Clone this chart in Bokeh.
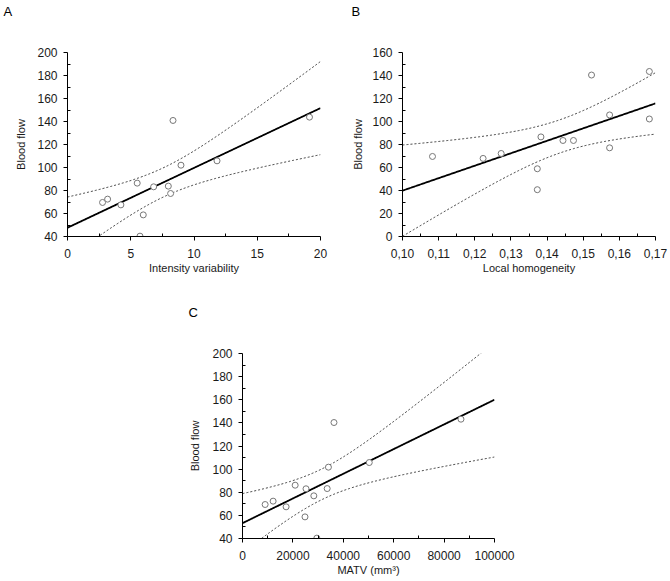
import numpy as np
from bokeh.plotting import figure
from bokeh.models import Range1d, FixedTicker, Spacer, ColumnDataSource, Title
from bokeh.layouts import row, column
from bokeh.embed import file_html
from bokeh.resources import INLINE

# ---------------- data ----------------
# Panel A: Intensity variability vs Blood flow
A_x = [2.77, 3.17, 4.22, 5.51, 5.73, 5.99, 6.81, 7.97, 8.15, 8.34, 8.97, 11.82, 19.13]
A_y = [69.6, 72.5, 67.5, 86.4, 40.3, 58.8, 83.2, 83.8, 77.4, 140.9, 102.0, 105.8, 143.8]

# Panel B: Local homogeneity vs Blood flow
B_x = [0.1083, 0.1223, 0.1273, 0.1373, 0.1373, 0.1383, 0.1444, 0.1473,
       0.1523, 0.1573, 0.1573, 0.1683, 0.1683]
B_y = [69.6, 67.9, 72.2, 58.9, 40.7, 86.6, 83.5, 83.5, 140.4, 105.7, 77.1, 143.5, 102.2]

# Panel C: MATV vs Blood flow
C_x = [8980, 12150, 17300, 20900, 24800, 25200, 28300, 29500, 33600, 34100,
       36300, 50300, 86700]
C_y = [69.4, 72.3, 67.4, 86.1, 58.7, 83.0, 76.9, 40.3, 83.2, 101.7, 140.3, 105.7, 143.2]

# axis ticks / labels
A_xticks = [0, 5, 10, 15, 20]
A_xtick_labels = ["0", "5", "10", "15", "20"]
A_yticks = [40, 60, 80, 100, 120, 140, 160, 180, 200]

B_xticks = [0.10, 0.11, 0.12, 0.13, 0.14, 0.15, 0.16, 0.17]
B_xtick_labels = ["0,10", "0,11", "0,12", "0,13", "0,14", "0,15", "0,16", "0,17"]
B_yticks = [0, 20, 40, 60, 80, 100, 120, 140, 160]

C_xticks = [0, 20000, 40000, 60000, 80000, 100000]
C_xtick_labels = ["0", "20000", "40000", "60000", "80000", "100000"]
C_yticks = [40, 60, 80, 100, 120, 140, 160, 180, 200]

T_CRIT = 2.201  # t(0.975, df = 11) for the 95% confidence band

FONT = "Liberation Sans"


def mids(ticks):
    return [(a + b) / 2 for a, b in zip(ticks[:-1], ticks[1:])]


def panel(letter, xs_data, ys_data, xr, yr, xticks, xlabels, yticks,
          xlabel, width, height, bl, bt, br, bb, ylab_standoff,
          letter_offset, gap_standoff):
    p = figure(width=width, height=height, output_backend="svg",
               toolbar_location=None, x_range=Range1d(*xr), y_range=Range1d(*yr),
               min_border_left=bl, min_border_top=bt, min_border_right=br,
               min_border_bottom=bb, title=None)
    p.outline_line_color = None
    p.grid.visible = False
    p.background_fill_color = "white"
    p.border_fill_color = "white"

    # spacer title next to the frame, then the panel letter further out
    p.add_layout(Title(text=" ", standoff=gap_standoff, text_font=FONT,
                       text_font_size="13px"), "above")
    p.add_layout(Title(text=letter, align="left", vertical_align="middle",
                       offset=letter_offset, standoff=0, text_font=FONT,
                       text_font_size="13px", text_font_style="normal",
                       text_color="black"), "above")

    # regression and 95% confidence band computed from the scatter data
    x = np.asarray(xs_data, dtype=float)
    y = np.asarray(ys_data, dtype=float)
    n = len(x)
    xm = x.mean()
    sxx = ((x - xm) ** 2).sum()
    slope = ((x - xm) * (y - y.mean())).sum() / sxx
    icpt = y.mean() - slope * xm
    resid = y - (icpt + slope * x)
    s = np.sqrt((resid ** 2).sum() / (n - 2))
    gx = np.linspace(xr[0], xr[1], 300)
    fit = icpt + slope * gx
    half = T_CRIT * s * np.sqrt(1.0 / n + (gx - xm) ** 2 / sxx)
    src = ColumnDataSource(dict(x=gx, fit=fit, lo=fit - half, hi=fit + half))

    p.line("x", "hi", source=src, line_color="#3a3a3a", line_width=1, line_dash="2 2")
    p.line("x", "lo", source=src, line_color="#3a3a3a", line_width=1, line_dash="2 2")
    p.line("x", "fit", source=src, line_color="black", line_width=1.8)
    p.scatter(xs_data, ys_data, marker="circle", size=6, fill_color="white",
              line_color="#777777", line_width=1)

    # axes
    xa = p.xaxis[0]
    ya = p.yaxis[0]
    xa.ticker = FixedTicker(ticks=xticks, minor_ticks=mids(xticks))
    xa.major_label_overrides = {t: l for t, l in zip(xticks, xlabels)}
    ya.ticker = FixedTicker(ticks=yticks, minor_ticks=mids(yticks))
    xa.axis_label = xlabel
    ya.axis_label = "Blood flow"
    for ax in (xa, ya):
        ax.axis_line_color = "black"
        ax.axis_line_width = 1
        ax.major_tick_line_color = "black"
        ax.minor_tick_line_color = "black"
        ax.major_tick_out = 4
        ax.major_tick_in = 0
        ax.minor_tick_out = 0
        ax.minor_tick_in = 3
        ax.major_label_text_font = FONT
        ax.major_label_text_font_size = "12px"
        ax.major_label_text_color = "#1a1a1a"
        ax.axis_label_text_font = FONT
        ax.axis_label_text_font_size = "11px"
        ax.axis_label_text_font_style = "normal"
        ax.axis_label_text_color = "#1a1a1a"
    xa.major_label_standoff = 8
    xa.axis_label_standoff = 1
    ya.major_label_standoff = 6
    ya.axis_label_standoff = ylab_standoff
    return p


pA = panel("A", A_x, A_y, (0, 20), (40, 200), A_xticks, A_xtick_labels, A_yticks,
           "Intensity variability", 340, 280, 67, 52, 20, 44, 7, -64, 16)
pB = panel("B", B_x, B_y, (0.10, 0.17), (0, 160), B_xticks, B_xtick_labels, B_yticks,
           "Local homogeneity", 329, 280, 62, 52, 14, 44, 5, -51, 16)
pC = panel("C", C_x, C_y, (0, 100000), (40, 200), C_xticks, C_xtick_labels, C_yticks,
           "MATV (mm\u00b3)", 340, 298, 59, 73, 29, 40, 8, -54, 16)

layout = column(row(pA, pB), row(Spacer(width=183, height=298), pC))

open("out.html", "w").write(file_html(layout, INLINE))
